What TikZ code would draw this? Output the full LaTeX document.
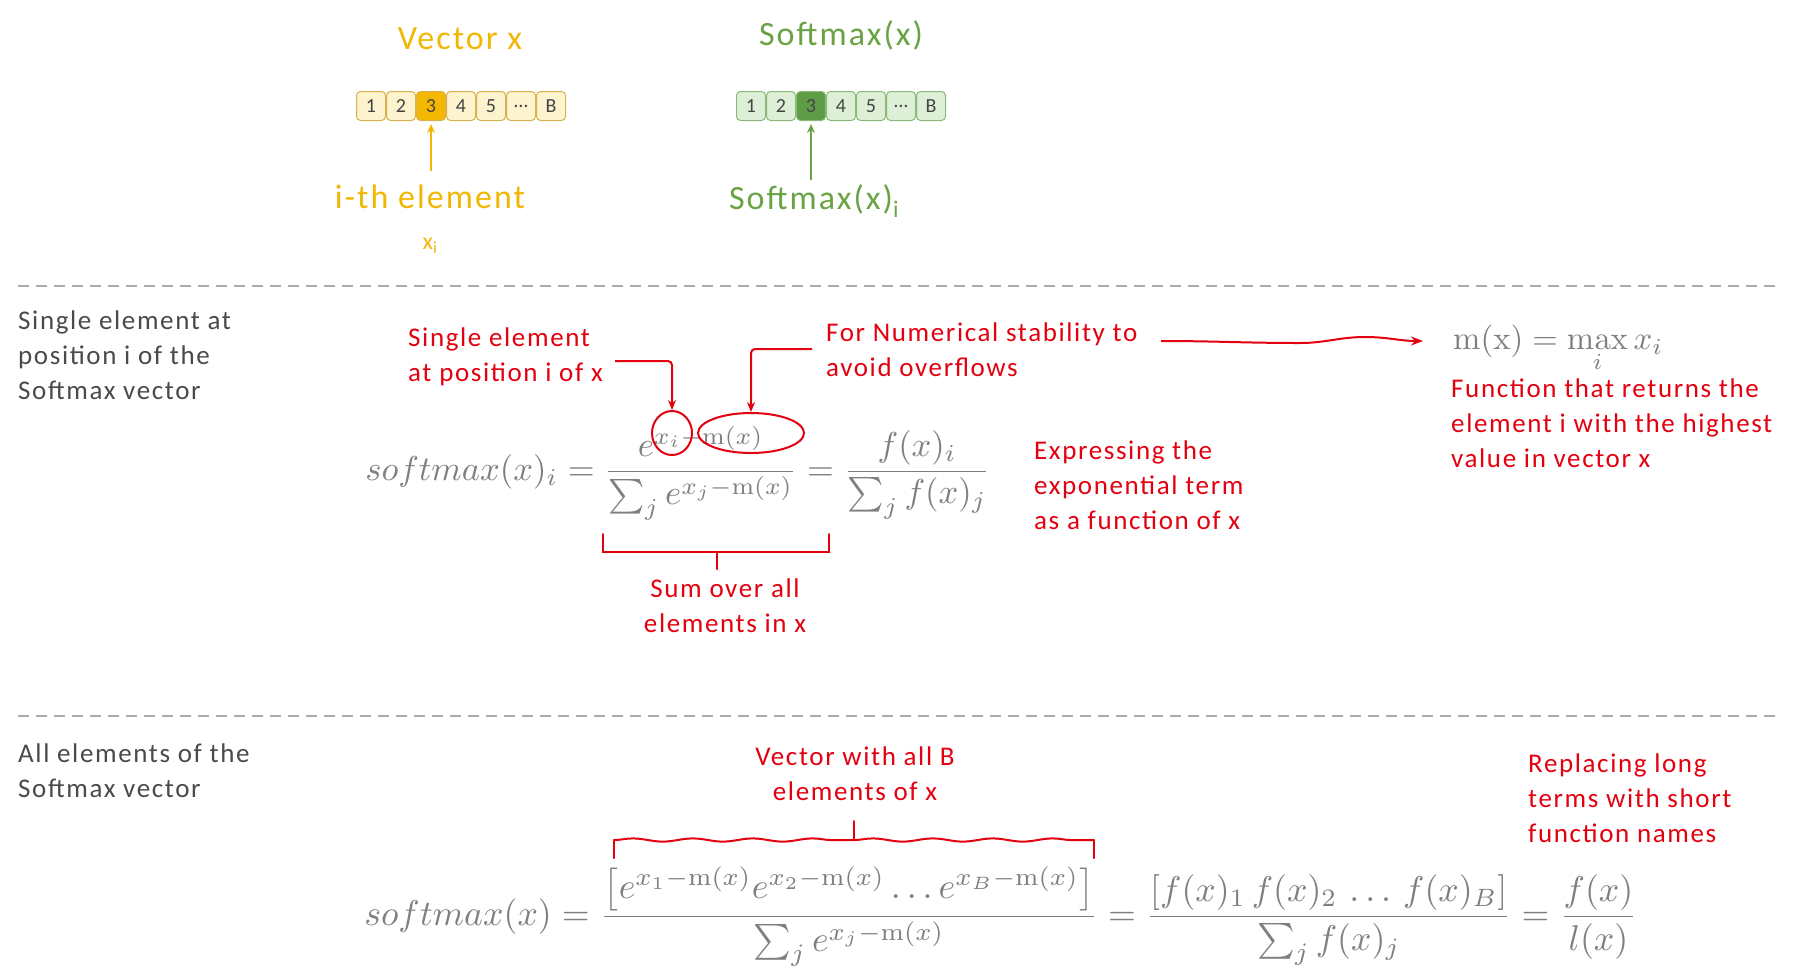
\documentclass[tikz,border=0pt]{standalone}
\usepackage[no-math]{fontspec}
\setmainfont{Carlito}[LetterSpace=6]
\usepackage{amsmath}
\usepackage{graphicx}
\usetikzlibrary{arrows.meta,decorations.pathreplacing,decorations.pathmorphing,shapes.geometric}
\definecolor{ylw}{HTML}{F2B705}
\definecolor{ylwfill}{HTML}{FDF3CF}
\definecolor{ylwedge}{HTML}{D8B24E}
\definecolor{ylwhi}{HTML}{F5B800}
\definecolor{grn}{HTML}{6AA343}
\definecolor{grnfill}{HTML}{DDEFD6}
\definecolor{grnedge}{HTML}{8CB97A}
\definecolor{grnhi}{HTML}{5E9C45}
\definecolor{annot}{HTML}{E3000F}
\definecolor{lbl}{HTML}{4A4A4A}
\definecolor{mathgray}{HTML}{7F7F7F}
\definecolor{dashgray}{HTML}{ABABAB}
\definecolor{celltext}{HTML}{444444}
\begin{document}
\begin{tikzpicture}[x=1pt,y=-1pt,
  cellbase/.style={draw, rounded corners=4pt, line width=1pt, minimum width=29pt, minimum height=29pt, inner sep=0pt, text=celltext, font=\fontsize{20}{20}\selectfont},
  ycell/.style={cellbase, fill=ylwfill, draw=ylwedge},
  yhi/.style={cellbase, fill=ylwhi, draw=ylwedge},
  gcell/.style={cellbase, fill=grnfill, draw=grnedge},
  ghi/.style={cellbase, fill=grnhi, draw=grnedge},
  toplbl/.style={inner sep=0pt, font=\fontsize{34}{38}\selectfont},
  sidelbl/.style={inner sep=0pt, align=left, text=lbl, font=\fontsize{27}{35}\selectfont},
  note/.style={inner sep=0pt, text=annot, font=\fontsize{27}{35}\selectfont},
  annarrow/.style={draw=annot, line width=2pt, -{Stealth[length=10pt,width=8pt]}, rounded corners=4pt},
  annline/.style={draw=annot, line width=2pt, line cap=round},
  ring/.style={ellipse, draw=annot, line width=2pt, inner sep=0pt},
  sep/.style={draw=dashgray, line width=1.3pt, dash pattern=on 11pt off 7pt},
  eqn/.style={inner sep=0pt, text=mathgray}
]
\useasboundingbox (0,0) rectangle (1811,978);

% ---------- top: vectors ----------
\node[toplbl, text=ylw] (vx) at (460,39) {Vector x};
\foreach \t/\s [count=\k] in {1/ycell,2/ycell,3/yhi,4/ycell,5/ycell,\ldots/ycell,B/ycell}
  \node[\s] (y\k) at ({371+30*(\k-1)},106) {\t};
\node[toplbl, text=ylw] (ith) at (430,197) {i-th element};
\node[inner sep=0pt, text=ylw, font=\fontsize{24}{24}\selectfont] (xi) at (430,246) {x\textsubscript{i}};
\draw[draw=ylw, line width=2pt, -{Stealth[length=9pt,width=8pt]}, shorten <=14pt, shorten >=3pt] (ith.north -| y3.south) -- (y3.south);

\node[toplbl, text=grn] (sx) at (841,35) {Softmax(x)};
\foreach \t/\s [count=\k] in {1/gcell,2/gcell,3/ghi,4/gcell,5/gcell,\ldots/gcell,B/gcell}
  \node[\s] (g\k) at ({751+30*(\k-1)},106) {\t};
\node[toplbl, text=grn] (sxi) at (814,201) {Softmax(x)\textsubscript{i}};
\draw[draw=grn, line width=2pt, -{Stealth[length=9pt,width=8pt]}, shorten <=4pt, shorten >=3pt] (sxi.north -| g3.south) -- (g3.south);

\draw[sep] (18,286) -- (1782,286);
\draw[sep] (18,716) -- (1782,716);

% ---------- middle: single element ----------
\node[sidelbl, anchor=west] (lab1) at (18,355) {Single element at\\position i of the\\Softmax vector};

\node[eqn] (eq1) at (678,473) {\resizebox{625pt}{!}{$\displaystyle softmax(x)_i=\frac{e^{x_i-\mathrm{m}(x)}}{\sum_j e^{x_j-\mathrm{m}(x)}}=\frac{f(x)_i}{\sum_j f(x)_j}$}};

\node[ring, minimum width=40pt, minimum height=44pt] (e1) at (672,433) {};
\node[ring, minimum width=106pt, minimum height=40pt] (e2) at (751,433) {};

\node[note, anchor=west, align=left] (t1) at (408,357) {Single element\\at position i of x};
\draw[annarrow] ([xshift=12pt,yshift=-4pt]t1.east) -| (e1.north);

\node[note, anchor=west, align=left] (t2) at (826,350) {For Numerical stability to\\avoid overflows};
\draw[annarrow] ([xshift=-14pt,yshift=1pt]t2.west) -| (e2.north);

\node[eqn, anchor=west] (mx) at (1453,349) {\resizebox{210pt}{!}{$\mathrm{m(x)}=\displaystyle\max_i x_i$}};
\draw[draw=annot, line width=2pt, -{Stealth[length=12pt,width=9pt]}]
  (1161,341) to[out=0,in=180] (1300,343) to[out=0,in=180] (1365,337) to[out=0,in=180] (1423,341);

\node[note, anchor=west, align=left] (t3) at (1451,423) {Function that returns the\\element i with the highest\\value in vector x};

\node[note, anchor=west, align=left] (t4) at (1034,485) {Expressing the\\exponential term\\as a function of x};

\draw[annline] (603,534) -- (603,552) -- (829,552) -- (829,534);
\draw[annline] (717,552) -- (717,569);
\node[note, align=center] (t5) at (725,606) {Sum over all\\elements in x};

% ---------- bottom: all elements ----------
\node[sidelbl, anchor=west] (lab2) at (18,771) {All elements of the\\Softmax vector};

\node[note, align=center] (t6) at (855,774) {Vector with all B\\elements of x};
\node[note, anchor=west, align=left] (t7) at (1528,798) {Replacing long\\terms with short\\function names};

\draw[annline] (614,858) -- (614,840);
\draw[annline, decorate, decoration={snake, amplitude=1.6pt, segment length=60pt}] (614,840) -- (854,840);
\draw[annline, decorate, decoration={snake, amplitude=1.6pt, segment length=60pt}] (854,840) -- (1094,840);
\draw[annline] (1094,840) -- (1094,858);
\draw[annline] (854,840) -- (854,821);

\node[eqn] (eq2) at (1001,917) {\resizebox{1273pt}{!}{$\displaystyle softmax(x)=\frac{\left[e^{x_1-\mathrm{m}(x)}e^{x_2-\mathrm{m}(x)}\ldots e^{x_B-\mathrm{m}(x)}\right]}{\sum_j e^{x_j-\mathrm{m}(x)}}=\frac{\left[f(x)_1\,f(x)_2\,\ldots\,f(x)_B\right]}{\sum_j f(x)_j}=\frac{f(x)}{l(x)}$}};
\end{tikzpicture}
\end{document}
